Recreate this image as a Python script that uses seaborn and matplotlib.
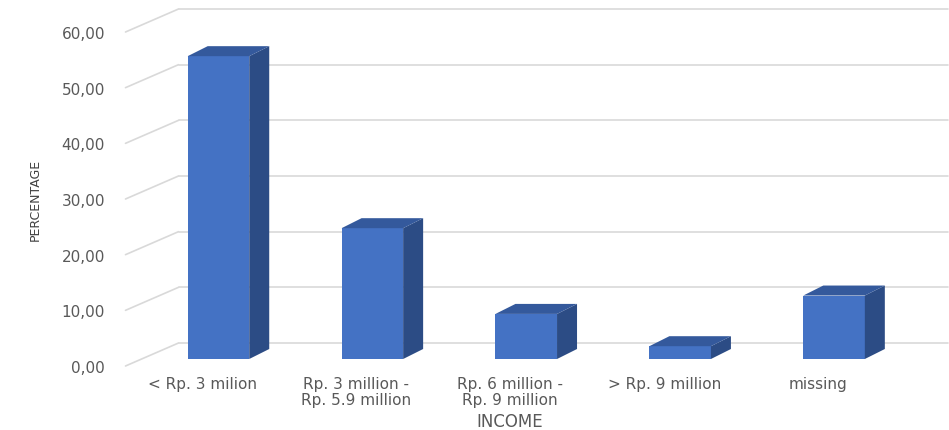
import matplotlib
matplotlib.use("Agg")
import pandas as pd
import matplotlib.pyplot as plt
import seaborn as sns
from matplotlib.patches import Polygon
from matplotlib.lines import Line2D
from matplotlib.transforms import ScaledTranslation, IdentityTransform

# === Data
categories = ["< Rp. 3 milion", "Rp. 3 million -\nRp. 5.9 million",
              "Rp. 6 million -\nRp. 9 million", "> Rp. 9 million", "missing"]
percentages = [54.4, 23.5, 8.1, 2.3, 11.4]
y_ticks = [0, 10, 20, 30, 40, 50, 60]
y_tick_labels = ["0,00", "10,00", "20,00", "30,00", "40,00", "50,00", "60,00"]

# === Style
front_col = "#4472C4"
side_col = "#2C4C85"
top_col = "#34599C"
grid_col = "#D9D9D9"
text_col = "#595959"

# pixel offsets of the fake 3D planes, relative to the bar front faces
back = (37, 16)
front = (-16, -7)
depth = (20, 10)

sns.set_theme(style="white")
plt.rcParams["font.family"] = ["DejaVu Sans"]

fig = plt.figure(figsize=(9.49, 4.31), dpi=100)
ax = fig.add_axes([141.5 / 949, 71 / 431, 769.5 / 949, 334 / 431])

df = pd.DataFrame({"income": categories, "pct": percentages})
sns.barplot(data=df, x="income", y="pct", color=front_col, saturation=1,
            width=0.4, linewidth=0, ax=ax, zorder=3)
ax.set_xlim(-0.5, 4.5)
ax.set_ylim(0, 60)
sns.despine(ax=ax, left=True, bottom=True)
ax.grid(False)

# === Walls: back-wall gridlines and left-wall diagonals
to_px = ax.transData.transform
x_left, x_right = ax.get_xlim()
for v in y_ticks:
    (xl, yv), = to_px([(x_left, v)])
    (xr, _), = to_px([(x_right, v)])
    for xs, ys in [([xl + back[0], xr + back[0]], [yv + back[1], yv + back[1]]),
                   ([xl + front[0], xl + back[0]], [yv + front[1], yv + back[1]])]:
        ln = Line2D(xs, ys, color=grid_col, lw=1.2, transform=IdentityTransform(), zorder=1)
        ax.add_artist(ln)
        ln.set_clip_on(False)

# === Bar sides and tops
for p in ax.patches[:len(categories)]:
    (x0, y0), = to_px([(p.get_x(), p.get_y())])
    (x1, y1), = to_px([(p.get_x() + p.get_width(), p.get_y() + p.get_height())])
    dx, dy = depth
    side = Polygon([(x1, y0), (x1 + dx, y0 + dy), (x1 + dx, y1 + dy), (x1, y1)],
                   closed=True, facecolor=side_col, edgecolor="none",
                   transform=IdentityTransform(), zorder=4)
    top = Polygon([(x0, y1), (x1, y1), (x1 + dx, y1 + dy), (x0 + dx, y1 + dy)],
                  closed=True, facecolor=top_col, edgecolor="none",
                  transform=IdentityTransform(), zorder=4)
    for poly in (side, top):
        ax.add_artist(poly)
        poly.set_clip_on(False)

# === Ticks and labels on the front plane
shift = ScaledTranslation(front[0] / 100, front[1] / 100, fig.dpi_scale_trans)
ax.set_yticks(y_ticks)
ax.set_yticklabels(y_tick_labels)
ax.tick_params(axis="y", length=0, pad=14.8, labelsize=11, labelcolor=text_col)
ax.tick_params(axis="x", length=0, pad=7, labelsize=11, labelcolor=text_col)
for lab in ax.get_yticklabels() + ax.get_xticklabels():
    lab.set_transform(lab.get_transform() + shift)
for lab in ax.get_xticklabels():
    lab.set_linespacing(1.1)

ax.set_xlabel("INCOME", fontsize=12, color=text_col)
ax.xaxis.set_label_coords(0.479, -0.16)
ax.set_ylabel("PERCENTAGE", fontsize=9, color="#404040")
ax.yaxis.set_label_coords(-0.13, 0.479)

fig.savefig("out.png", dpi=100)
plt.close(fig)
